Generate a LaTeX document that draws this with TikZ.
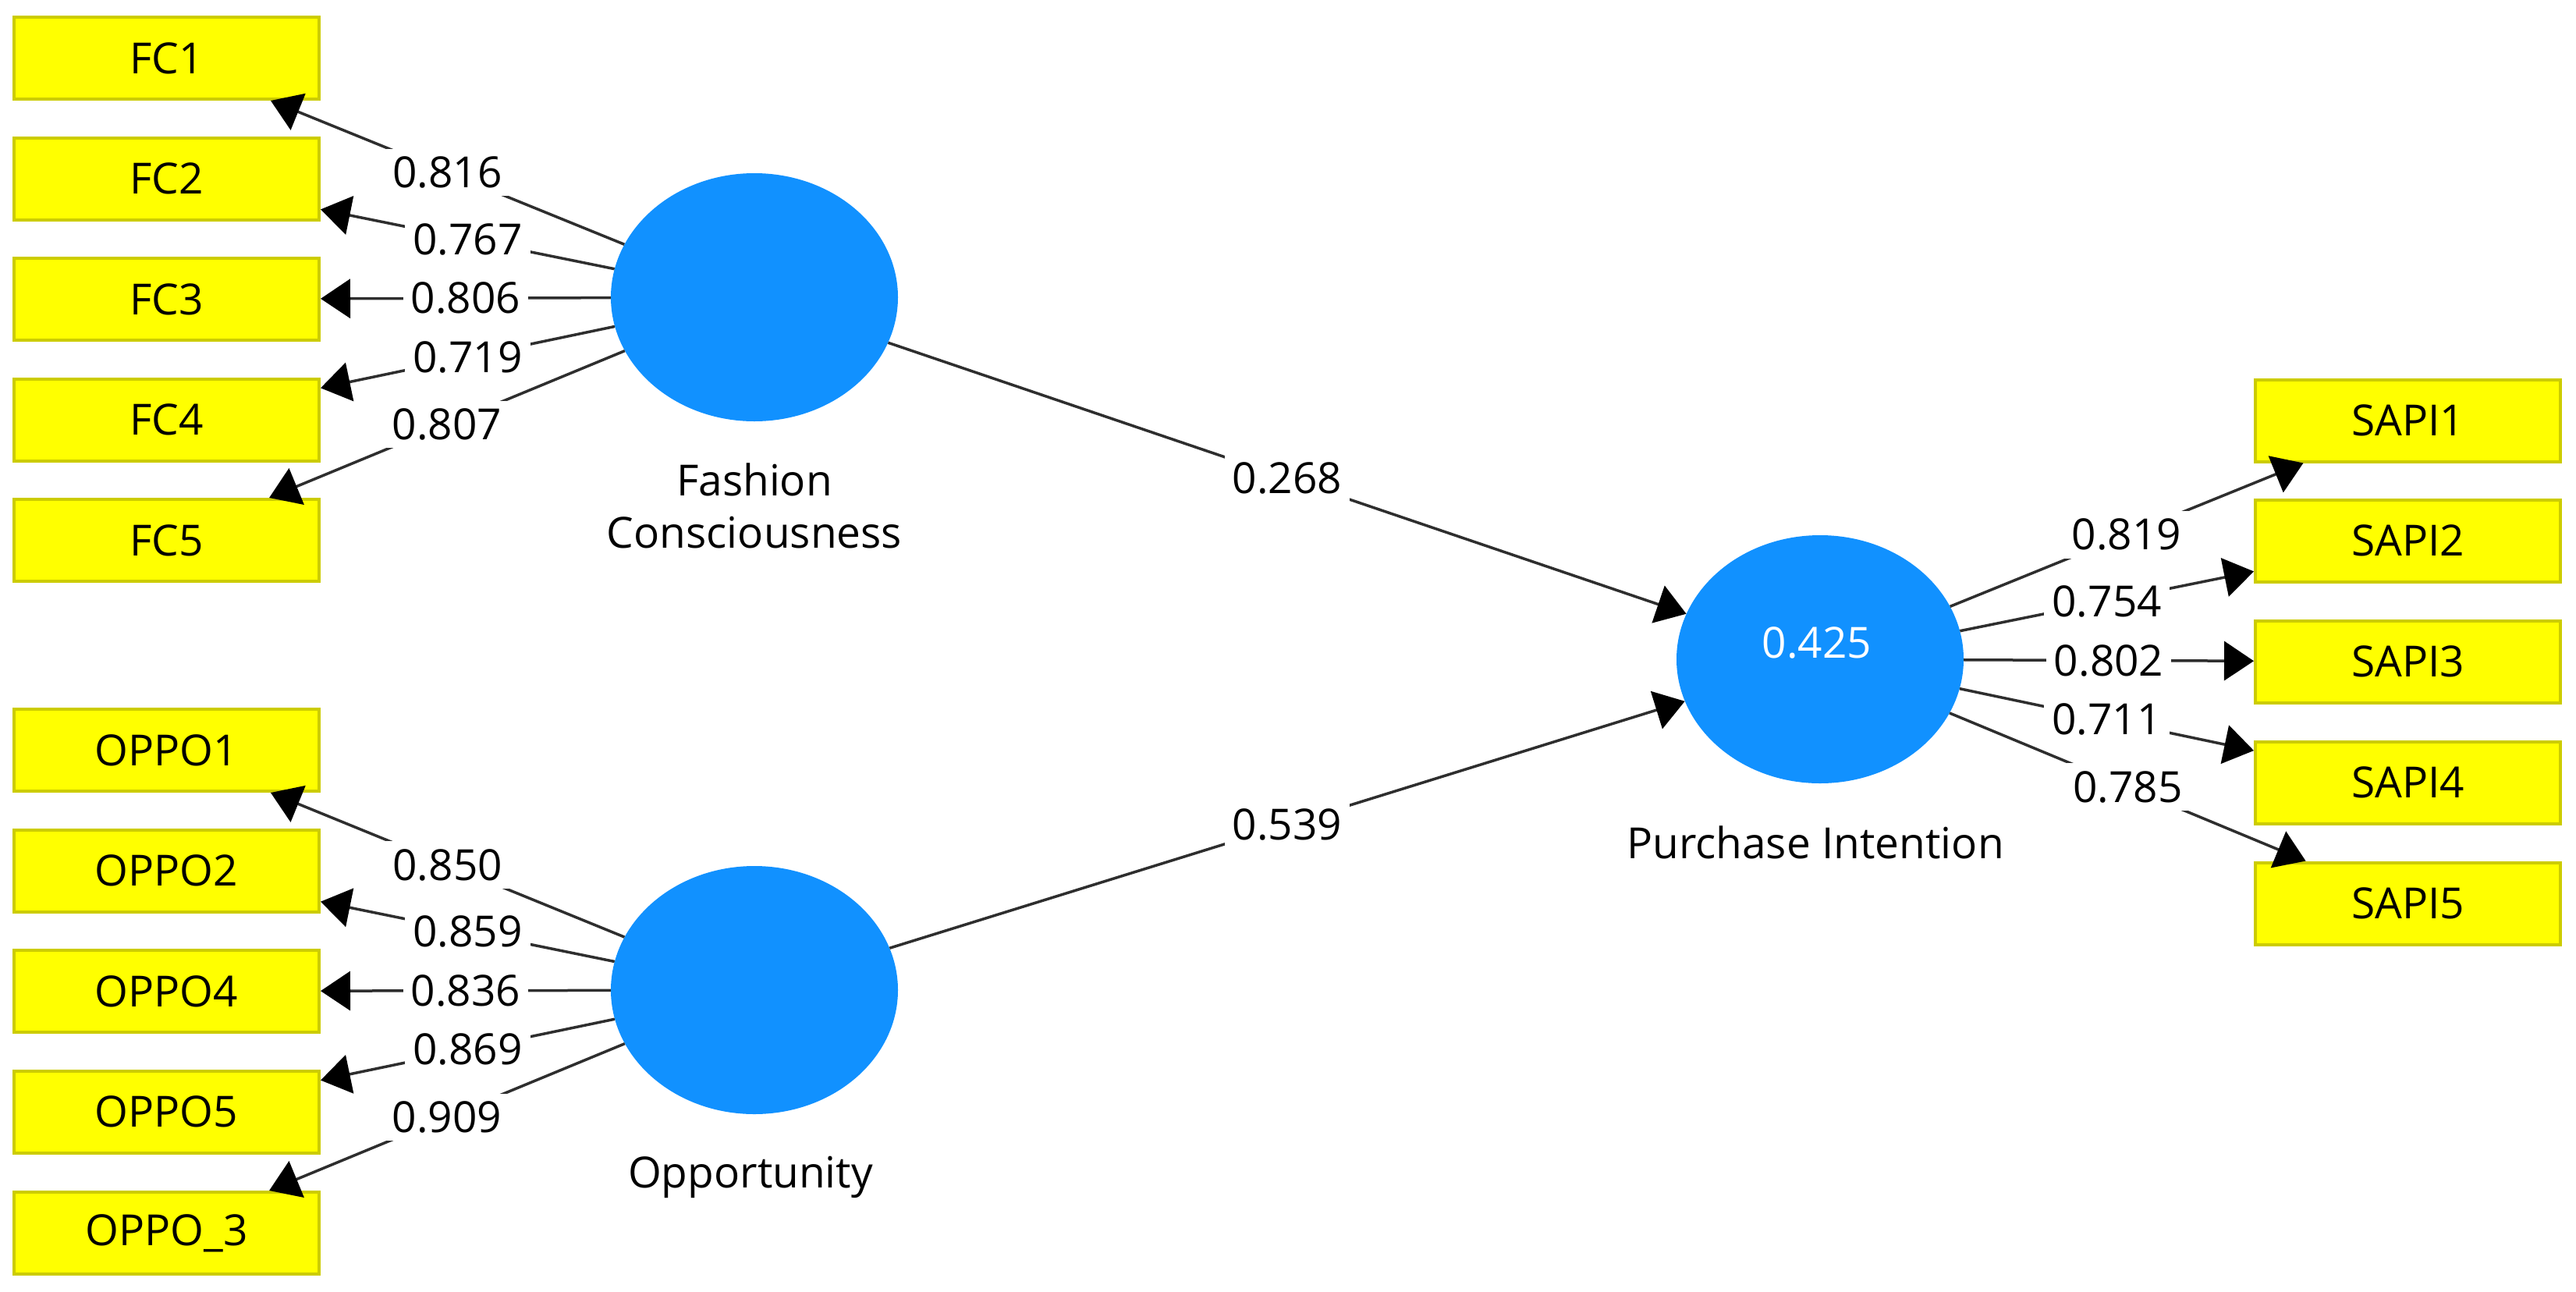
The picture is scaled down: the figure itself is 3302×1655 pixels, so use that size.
\documentclass[tikz,border=0pt]{standalone}
\usepackage{fontspec}
\setmainfont{Open Sans}
\usetikzlibrary{arrows.meta,shapes.geometric}
\definecolor{boxyellow}{RGB}{255,255,0}
\definecolor{boxborder}{RGB}{204,204,0}
\definecolor{lvblue}{RGB}{17,145,255}
\begin{document}
\begin{tikzpicture}[x=1pt,y=-1pt,
  every node/.style={font=\fontsize{55}{67}\selectfont},
  ind/.style={rectangle, fill=boxyellow, draw=boxborder, line width=4pt,
    minimum width=391pt, minimum height=105pt, inner sep=0pt},
  lv/.style={ellipse, fill=lvblue, minimum width=368pt, minimum height=318pt, inner sep=0pt},
  conn/.style={draw=black!82, line width=3.5pt,
    -{Triangle[length=38pt,width=50pt,color=black]}},
  lbl/.style={fill=white, inner sep=10pt, text=black}]
\fill[white] (0,0) rectangle (3302,1655);
\useasboundingbox (0,0) rectangle (3302,1655);
% indicators left
\node[ind] (fc1) at (213.5,74.5) {FC1};
\node[ind] (fc2) at (213.5,229) {FC2};
\node[ind] (fc3) at (213.5,383.5) {FC3};
\node[ind] (fc4) at (213.5,538) {FC4};
\node[ind] (fc5) at (213.5,692.5) {FC5};
\node[ind] (op1) at (213.5,961.5) {OPPO1};
\node[ind] (op2) at (213.5,1116) {OPPO2};
\node[ind] (op4) at (213.5,1270.5) {OPPO4};
\node[ind] (op5) at (213.5,1425) {OPPO5};
\node[ind] (op3) at (213.5,1580.5) {OPPO\_3};
% indicators right
\node[ind] (sa1) at (3086.5,539) {SAPI1};
\node[ind] (sa2) at (3086.5,693) {SAPI2};
\node[ind] (sa3) at (3086.5,848) {SAPI3};
\node[ind] (sa4) at (3086.5,1003) {SAPI4};
\node[ind] (sa5) at (3086.5,1158) {SAPI5};
% latent variables
\node[lv] (fc) at (967,381) {};
\node[lv] (op) at (967,1269) {};
\node[lv] (pi) at (2333,845) {};
\node[text=white, anchor=base] (pival) at (2329,843) {0.425};
\node[align=center, inner sep=0pt] (fcname) at (967,648) {Fashion\\Consciousness};
\node[anchor=base] (opname) at (962,1522) {Opportunity};
\node[anchor=base] (piname) at (2327,1100) {Purchase Intention};
% outer loadings
\draw[conn] (fc) -- node[lbl]{0.816} (fc1);
\draw[conn] (fc) -- node[lbl]{0.767} (fc2);
\draw[conn] (fc) -- node[lbl]{0.806} (fc3);
\draw[conn] (fc) -- node[lbl]{0.719} (fc4);
\draw[conn] (fc) -- node[lbl]{0.807} (fc5);
\draw[conn] (op) -- node[lbl]{0.850} (op1);
\draw[conn] (op) -- node[lbl]{0.859} (op2);
\draw[conn] (op) -- node[lbl]{0.836} (op4);
\draw[conn] (op) -- node[lbl]{0.869} (op5);
\draw[conn] (op) -- node[lbl]{0.909} (op3);
\draw[conn] (pi) -- node[lbl]{0.819} (sa1);
\draw[conn] (pi) -- node[lbl]{0.754} (sa2);
\draw[conn] (pi) -- node[lbl]{0.802} (sa3);
\draw[conn] (pi) -- node[lbl]{0.711} (sa4);
\draw[conn] (pi) -- node[lbl]{0.785} (sa5);
% path coefficients
\draw[conn] (fc) -- node[lbl]{0.268} (pi);
\draw[conn] (op) -- node[lbl]{0.539} (pi);
\end{tikzpicture}
\end{document}
